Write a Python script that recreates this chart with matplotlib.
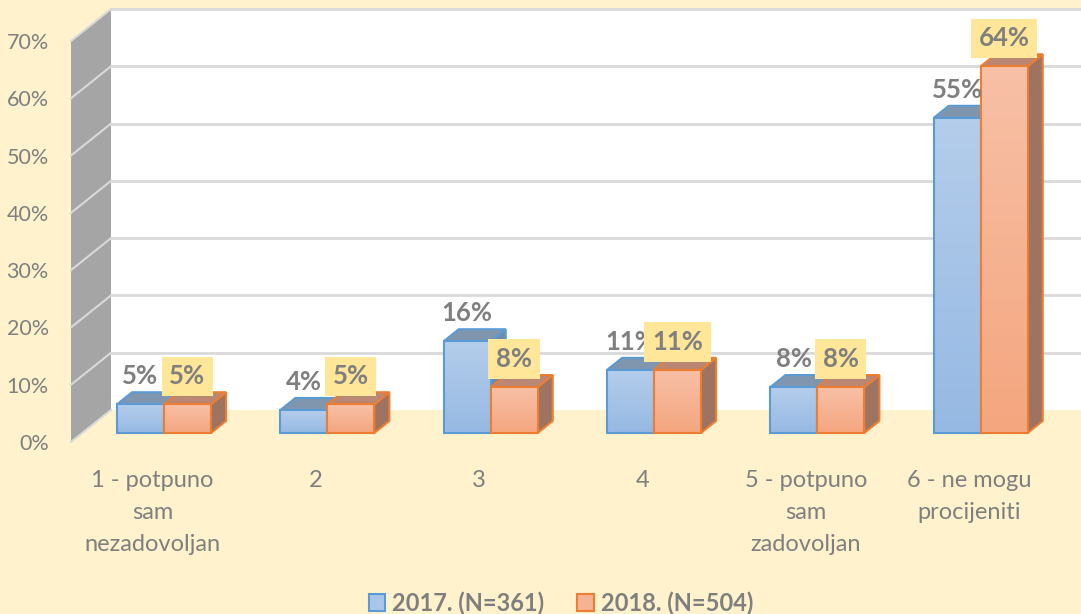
import numpy as np
import matplotlib.pyplot as plt
from matplotlib.patches import Polygon, Rectangle, Patch
from matplotlib.colors import LinearSegmentedColormap

# Podaci
kategorije = ["1 - potpuno\nsam\nnezadovoljan", "2", "3", "4",
              "5 - potpuno\nsam\nzadovoljan", "6 - ne mogu\nprocijeniti"]
vrijednosti_2017 = [5, 4, 16, 11, 8, 55]
vrijednosti_2018 = [5, 5, 8, 11, 8, 64]
serije = ["2017. (N=361)", "2018. (N=504)"]
y_oznake = [0, 10, 20, 30, 40, 50, 60, 70]

# Boje
pozadina = "#FFF2CC"
siva_tekst = "#7F7F7F"
plava = dict(gore="#B4CDEB", dolje="#96B9E3", vrh="#8096AF", bok="#6E89AA", rub="#5B9BD5")
narancasta = dict(gore="#F8C0A6", dolje="#F4A67F", vrh="#B98773", bok="#9E7361", rub="#ED7D31")

plt.rcParams["font.family"] = ["Lato", "DejaVu Sans"]

fig = plt.figure(figsize=(10.81, 6.14), dpi=100, facecolor=pozadina)
ax = fig.add_axes([71 / 1081, 172 / 614, 980 / 1081, 401 / 614])
ax.set_xlim(-0.5, 5.5)
ax.set_ylim(0, 70)
ax.patch.set_alpha(0)
for s in ax.spines.values():
    s.set_visible(False)

# 3D pomak (dubina zida) u jedinicama podataka
px_x = 980 / 6
px_y = 401 / 70
DX = 40 / px_x
DY = 32 / px_y
f0, dd = 0.28, 0.38
ox, oy = f0 * DX, f0 * DY
w = 47 / px_x

# Zidovi
ax.add_patch(Polygon([(-0.5 + DX, DY), (5.6 + DX, DY), (5.6 + DX, 70 + DY), (-0.5 + DX, 70 + DY)],
                     closed=True, facecolor="white", edgecolor="none", zorder=0, clip_on=False))
ax.add_patch(Polygon([(-0.5, 0), (-0.5 + DX, DY), (-0.5 + DX, 70 + DY), (-0.5, 70)],
                     closed=True, facecolor="#A5A5A5", edgecolor="none", zorder=0, clip_on=False))
for v in y_oznake:
    ax.plot([-0.5, -0.5 + DX], [v, v + DY], color="#D9D9D9", lw=1.5, zorder=1, clip_on=False)
    if v > 0:
        ax.plot([-0.5 + DX, 5.6 + DX], [v + DY, v + DY], color="#D9D9D9", lw=2, zorder=1, clip_on=False)

z = [2]


def kvadar(x0, v, b):
    xl = x0 + ox
    xr = xl + w
    yb, yt = oy, oy + v
    dx, dy = dd * DX, dd * DY
    ax.add_patch(Polygon([(xr, yb), (xr + dx, yb + dy), (xr + dx, yt + dy), (xr, yt)], closed=True,
                         facecolor=b["bok"], edgecolor=b["rub"], lw=1.5, zorder=z[0], clip_on=False))
    ax.add_patch(Polygon([(xl, yt), (xl + dx, yt + dy), (xr + dx, yt + dy), (xr, yt)], closed=True,
                         facecolor=b["vrh"], edgecolor=b["rub"], lw=1.5, zorder=z[0] + 0.1, clip_on=False))
    cmap = LinearSegmentedColormap.from_list("g", [b["dolje"], b["gore"]])
    ax.imshow(np.linspace(0, 1, 50).reshape(-1, 1), extent=[xl, xr, yb, yt], origin="lower",
              aspect="auto", cmap=cmap, zorder=z[0] + 0.2, clip_on=False)
    ax.add_patch(Rectangle((xl, yb), w, v, facecolor="none", edgecolor=b["rub"], lw=1.5,
                           zorder=z[0] + 0.3, clip_on=False))
    z[0] += 1
    return xl + w / 2, yt


x = np.arange(len(kategorije))
for i in x:
    cx, cy = kvadar(i - w, vrijednosti_2017[i], plava)
    ax.text(cx, cy + 4.9, f"{vrijednosti_2017[i]}%", ha="center", va="center", fontsize=18.5,
            fontweight="bold", color=siva_tekst, zorder=40 + 2 * i)
    cx, cy = kvadar(i, vrijednosti_2018[i], narancasta)
    ax.text(cx, cy + 4.9, f"{vrijednosti_2018[i]}%", ha="center", va="center", fontsize=18.5,
            fontweight="bold", color=siva_tekst, zorder=41 + 2 * i,
            bbox=dict(boxstyle="square,pad=0.3", facecolor="#FFE699", edgecolor="none"))

ax.set_xlim(-0.5, 5.5)
ax.set_ylim(0, 70)

ax.set_yticks(y_oznake)
ax.set_yticklabels([f"{v}%" for v in y_oznake])
ax.set_xticks(x)
ax.set_xticklabels(kategorije, linespacing=1.65)
ax.tick_params(axis="y", length=0, pad=16, labelsize=15.5, labelcolor=siva_tekst)
ax.tick_params(axis="x", length=0, pad=20, labelsize=17, labelcolor=siva_tekst)

rucke = [Patch(facecolor="#A9C6E8", edgecolor=plava["rub"], lw=1.5),
         Patch(facecolor="#F6B394", edgecolor=narancasta["rub"], lw=1.5)]
fig.legend(rucke, serije, loc="center", bbox_to_anchor=(561 / 1081, 1 - 603 / 614), ncol=2,
           frameon=False, handlelength=0.7, handleheight=0.7, handletextpad=0.3,
           columnspacing=1.4, labelcolor=siva_tekst, prop=dict(size=17, weight="bold"))

fig.savefig("out.png", dpi=100, facecolor=pozadina)
